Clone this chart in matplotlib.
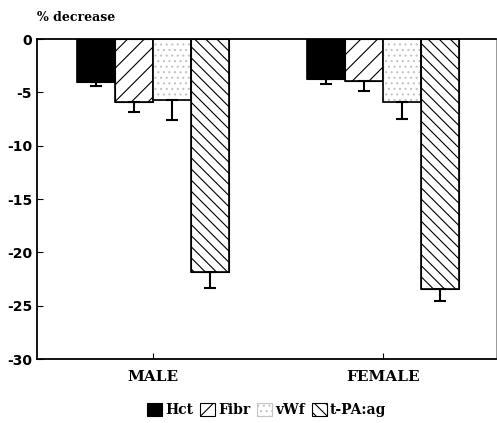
import numpy as np
import matplotlib
matplotlib.use("Agg")
import matplotlib.pyplot as plt

# dados
grupos = ["MALE", "FEMALE"]
series = ["Hct", "Fibr", "vWf", "t-PA:ag"]
valores = {
    "Hct": [-4.0, -3.75],
    "Fibr": [-5.9, -3.9],
    "vWf": [-5.7, -5.9],
    "t-PA:ag": [-21.8, -23.4],
}
erros = {
    "Hct": [0.4, 0.45],
    "Fibr": [0.9, 1.0],
    "vWf": [1.9, 1.6],
    "t-PA:ag": [1.5, 1.2],
}

plt.rcParams["hatch.linewidth"] = 0.8

estilos = {
    "Hct": dict(facecolor="black", hatch=None, hcor="black"),
    "Fibr": dict(facecolor="white", hatch="//", hcor="black"),
    "vWf": dict(facecolor="white", hatch="...", hcor="#c4c4c4"),
    "t-PA:ag": dict(facecolor="white", hatch="\\\\\\", hcor="black"),
}

fig = plt.figure(figsize=(4.97, 4.23), dpi=100)
ax = fig.add_axes([0.0744, 0.1513, 0.9235, 0.7565])

x = np.arange(len(grupos))
largura = 0.165
for i, s in enumerate(series):
    pos = x + (i - 1.5) * largura
    est = estilos[s]
    # preenchimento + hachura (cor da hachura = edgecolor)
    ax.bar(pos, valores[s], largura, facecolor=est["facecolor"],
           hatch=est["hatch"], edgecolor=est["hcor"], linewidth=0.8,
           label=s, zorder=2)
    # contorno preto
    ax.bar(pos, valores[s], largura, facecolor="none",
           edgecolor="black", linewidth=1.2, zorder=2)
    ax.errorbar(pos, valores[s], yerr=[erros[s], [0, 0]], fmt="none",
                ecolor="black", elinewidth=1.5, capsize=4, capthick=1.5,
                zorder=3)

ax.set_xlim(-0.504, 1.49)
ax.set_ylim(-30, 0)
ax.set_yticks(np.arange(-30, 1, 5))
ax.set_yticklabels([str(v) for v in range(-30, 1, 5)],
                   fontfamily="DejaVu Sans", fontweight="bold", fontsize=10)
ax.set_xticks(x)
ax.set_xticklabels(grupos, fontfamily="DejaVu Serif", fontweight="bold",
                   fontsize=11)
ax.tick_params(direction="in", length=4, width=0.8)
ax.tick_params(axis="x", pad=8)
for lado in ["left", "bottom", "top"]:
    ax.spines[lado].set_linewidth(1.3)
ax.spines["right"].set_linewidth(0.6)
ax.spines["right"].set_color("#888888")

fig.text(0.0744, 0.958, "% decrease", fontfamily="DejaVu Serif",
         fontweight="bold", fontsize=9, va="center")

ax.legend(loc="center", bbox_to_anchor=(0.5, -0.16), ncol=4, frameon=False,
          prop={"family": "DejaVu Serif", "weight": "bold", "size": 10},
          handlelength=1.1, handleheight=1.1, handletextpad=0.2,
          columnspacing=0.5)

fig.savefig("out.png", dpi=100)
